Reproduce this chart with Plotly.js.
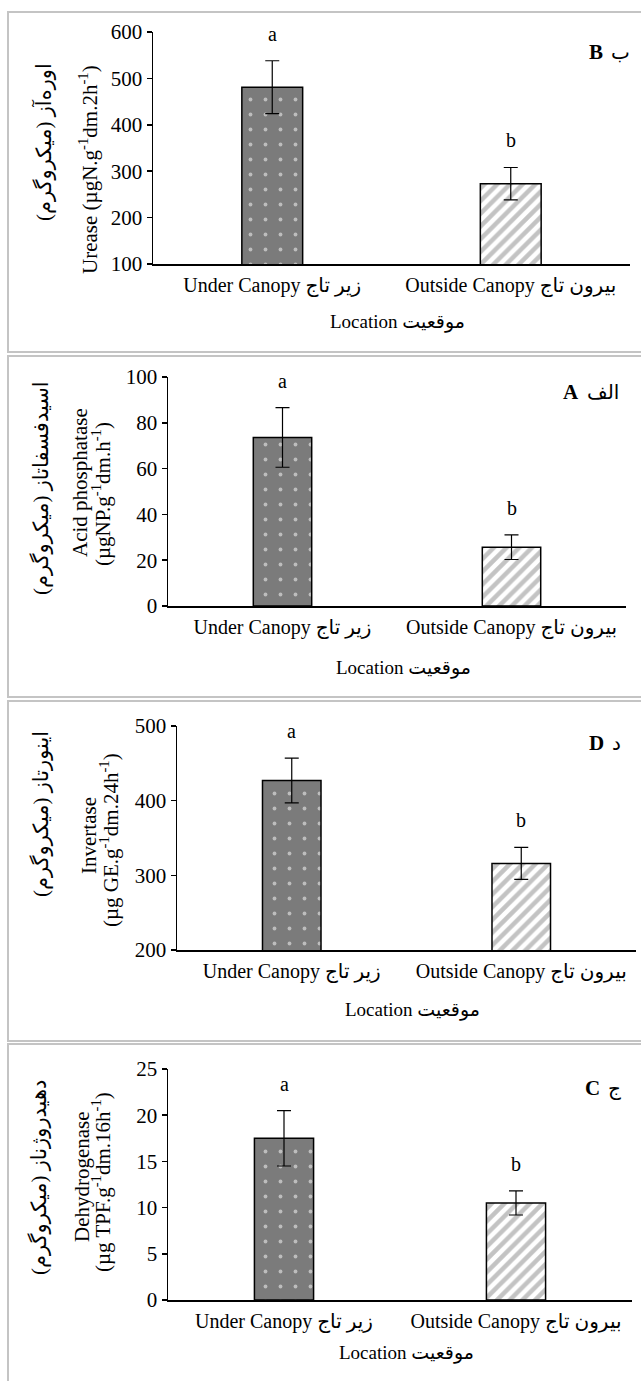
<!DOCTYPE html>
<html>
<head>
<meta charset="utf-8">
<script src="https://cdn.plot.ly/plotly-3.0.1.min.js"></script>
<style>html,body{margin:0;padding:0;background:#fff;}#chart{width:641px;height:1381px;}</style>
</head>
<body>
<div id="chart"></div>
<script>
// ---- data ----
const categories = ["Under Canopy زیر تاج", "Outside Canopy بیرون تاج"];
const letters = ["a", "b"];

const ureaseMean = [481, 273];
const ureaseErr = [57, 35];
const ureaseTicks = [100, 200, 300, 400, 500, 600];

const acidMean = [73.6, 25.7];
const acidErr = [13, 5.4];
const acidTicks = [0, 20, 40, 60, 80, 100];

const invertaseMean = [427, 316];
const invertaseErr = [30, 21.5];
const invertaseTicks = [200, 300, 400, 500];

const dehydMean = [17.5, 10.5];
const dehydErr = [3, 1.3];
const dehydTicks = [0, 5, 10, 15, 20, 25];

const xTitle = "Location موقعیت";
const RLM = "\u200F";

// ---- layout geometry (pixels) ----
const W = 641, H = 1381;
const FONT = "'Liberation Serif', 'Times New Roman', 'DejaVu Sans', serif";
const px = v => v / W;
const py = v => 1 - v / H;

const barStyles = [
  {bg: "#7b7b7b", fg: "#ffffff", shape: ".", size: 15, solidity: 0.05},
  {bg: "#ffffff", fg: "#888888", shape: "/", size: 9, solidity: 0.5}
];

const panels = [
  {mean: ureaseMean, err: ureaseErr, ticks: ureaseTicks,
   titles: [{t: RLM + "اوره‌آز (میکروگرم)" + RLM, x: 44, y: 142},
            {t: "Urease (µgN.g<sup>-1</sup>dm.2h<sup>-1</sup>)", x: 88, y: 170}],
   label: ["B", "ب"], labelX: 605, box: [12, 352], plot: {x0: 153, x1: 630, y0: 32, y1: 264}, labelY: 52, locY: 322},
  {mean: acidMean, err: acidErr, ticks: acidTicks,
   titles: [{t: RLM + "اسیدفسفاتاز (میکروگرم)" + RLM, x: 41, y: 488},
            {t: "Acid phosphatase", x: 80, y: 483},
            {t: "(µgNP.g<sup>-1</sup>dm.h<sup>-1</sup>)", x: 101, y: 494}],
   label: ["A", "الف"], labelX: 581, box: [356, 697], plot: {x0: 168, x1: 626, y0: 377, y1: 606}, labelY: 392, locY: 668},
  {mean: invertaseMean, err: invertaseErr, ticks: invertaseTicks,
   titles: [{t: RLM + "اینورتاز (میکروگرم)" + RLM, x: 41, y: 814},
            {t: "Invertase", x: 89, y: 836},
            {t: "(µg GE.g<sup>-1</sup>dm.24h<sup>-1</sup>)", x: 109, y: 840}],
   label: ["D", "د"], labelX: 606, box: [701, 1041], plot: {x0: 177, x1: 636, y0: 726, y1: 950}, labelY: 743, locY: 1010},
  {mean: dehydMean, err: dehydErr, ticks: dehydTicks,
   titles: [{t: RLM + "دهیدروژناز (میکروگرم)" + RLM, x: 39, y: 1178},
            {t: "Dehydrogenase", x: 82, y: 1177},
            {t: "(µg TPF.g<sup>-1</sup>dm.16h<sup>-1</sup>)", x: 101, y: 1182}],
   label: ["C", "ج"], labelX: 602, box: [1044, 1400], plot: {x0: 168, x1: 632, y0: 1069, y1: 1300}, labelY: 1088, locY: 1353}
];

const traces = [];
const layout = {
  width: W, height: H,
  margin: {l: 0, r: 0, t: 0, b: 0},
  paper_bgcolor: "#ffffff", plot_bgcolor: "rgba(0,0,0,0)",
  showlegend: false, barmode: "overlay",
  font: {family: FONT, color: "#000", size: 20},
  shapes: [], annotations: []
};

panels.forEach((p, i) => {
  const n = i === 0 ? "" : String(i + 1);
  const xa = "x" + n, ya = "y" + n;
  categories.forEach((c, j) => {
    const s = barStyles[j];
    traces.push({
      type: "bar", x: [c], y: [p.mean[j]], xaxis: xa, yaxis: ya,
      width: 0.255,
      marker: {
        color: s.bg,
        line: {color: "#000", width: 1.5},
        pattern: {shape: s.shape, fgcolor: s.fg, bgcolor: s.bg, size: s.size, solidity: s.solidity, fillmode: "overlay"}
      },
      error_y: {type: "data", array: [p.err[j]], visible: true, color: "#000", thickness: 1.2, width: 7},
      hoverinfo: "skip"
    });
    layout.annotations.push({xref: xa, yref: ya, x: c, y: p.mean[j] + p.err[j],
      text: letters[j], showarrow: false, yanchor: "middle", yshift: 27,
      font: {size: 20, family: FONT}});
  });
  const lo = p.ticks[0], hi = p.ticks[p.ticks.length - 1];
  layout["xaxis" + n] = {
    domain: [px(p.plot.x0), px(p.plot.x1)], anchor: ya, type: "category",
    showline: true, linecolor: "#000", linewidth: 2, ticks: "", showgrid: false, zeroline: false,
    tickfont: {size: 20, family: FONT}, ticklabelstandoff: 2, fixedrange: true
  };
  layout["yaxis" + n] = {
    domain: [py(p.plot.y1), py(p.plot.y0)], anchor: xa, range: [lo, hi],
    tickvals: p.ticks, ticktext: p.ticks.map(String),
    showline: true, linecolor: "#000", linewidth: 1.5, ticks: "outside", ticklen: 5, tickwidth: 1.5, tickcolor: "#000",
    showgrid: false, zeroline: false, tickfont: {size: 21, family: FONT}, fixedrange: true
  };
  // panel border
  layout.shapes.push({type: "rect", xref: "paper", yref: "paper",
    x0: px(8), x1: px(660), y0: py(p.box[1]), y1: py(p.box[0]),
    line: {color: "#c4c4c4", width: 2}, fillcolor: "rgba(0,0,0,0)", layer: "below"});
  // y titles
  p.titles.forEach(t => {
    layout.annotations.push({xref: "paper", yref: "paper", x: px(t.x), y: py(t.y),
      text: t.t, textangle: -90, showarrow: false, xanchor: "center", yanchor: "middle",
      font: {size: 21, family: FONT}});
  });
  // panel label: Latin letter (bold) on the left, Persian letter on the right
  layout.annotations.push({xref: "paper", yref: "paper", x: px(p.labelX), y: py(p.labelY),
    text: "<b>" + p.label[0] + "</b>", showarrow: false, xanchor: "right", yanchor: "middle",
    font: {size: 21, family: FONT}});
  layout.annotations.push({xref: "paper", yref: "paper", x: px(p.labelX + 4), y: py(p.labelY),
    text: p.label[1], showarrow: false, xanchor: "left", yanchor: "middle",
    font: {size: 20, family: FONT}});
  // x title
  layout.annotations.push({xref: "paper", yref: "paper", x: px((p.plot.x0 + p.plot.x1) / 2 + 6), y: py(p.locY),
    text: xTitle, showarrow: false, xanchor: "center", yanchor: "middle",
    font: {size: 19, family: FONT}});
});

Plotly.newPlot("chart", traces, layout, {staticPlot: true, displayModeBar: false});
</script>
</body>
</html>
